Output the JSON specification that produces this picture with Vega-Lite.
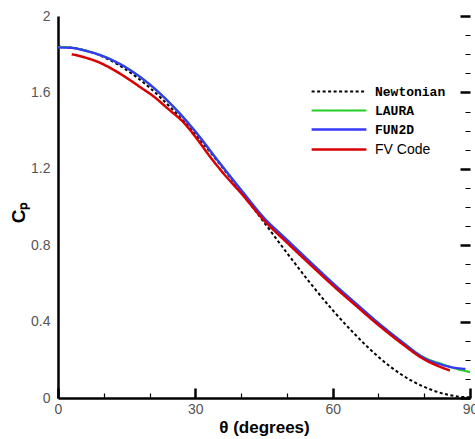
{
  "$schema": "https://vega.github.io/schema/vega-lite/v6.json",
  "width": 412,
  "height": 382,
  "autosize": "none",
  "padding": {"left": 58, "top": 16, "right": 5, "bottom": 41},
  "config": {"view": {"stroke": null}, "font": "Liberation Sans"},
  "data": {
    "values": [
      {"s": "Newtonian", "t": 0, "cp": 1.84},
      {"s": "Newtonian", "t": 5, "cp": 1.826},
      {"s": "Newtonian", "t": 10, "cp": 1.785},
      {"s": "Newtonian", "t": 15, "cp": 1.717},
      {"s": "Newtonian", "t": 20, "cp": 1.625},
      {"s": "Newtonian", "t": 25, "cp": 1.511},
      {"s": "Newtonian", "t": 30, "cp": 1.38},
      {"s": "Newtonian", "t": 35, "cp": 1.235},
      {"s": "Newtonian", "t": 40, "cp": 1.08},
      {"s": "Newtonian", "t": 45, "cp": 0.92},
      {"s": "Newtonian", "t": 50, "cp": 0.76},
      {"s": "Newtonian", "t": 55, "cp": 0.605},
      {"s": "Newtonian", "t": 60, "cp": 0.46},
      {"s": "Newtonian", "t": 65, "cp": 0.33},
      {"s": "Newtonian", "t": 70, "cp": 0.215},
      {"s": "Newtonian", "t": 75, "cp": 0.123},
      {"s": "Newtonian", "t": 80, "cp": 0.058},
      {"s": "Newtonian", "t": 85, "cp": 0.018},
      {"s": "Newtonian", "t": 88, "cp": 0.006},
      {"s": "Newtonian", "t": 90, "cp": 0.004},
      {"s": "LAURA", "t": 0, "cp": 1.838},
      {"s": "LAURA", "t": 3, "cp": 1.834},
      {"s": "LAURA", "t": 6, "cp": 1.819},
      {"s": "LAURA", "t": 10, "cp": 1.789},
      {"s": "LAURA", "t": 15, "cp": 1.729},
      {"s": "LAURA", "t": 20, "cp": 1.643},
      {"s": "LAURA", "t": 25, "cp": 1.531},
      {"s": "LAURA", "t": 30, "cp": 1.396},
      {"s": "LAURA", "t": 35, "cp": 1.241},
      {"s": "LAURA", "t": 40, "cp": 1.09},
      {"s": "LAURA", "t": 45, "cp": 0.944},
      {"s": "LAURA", "t": 50, "cp": 0.829},
      {"s": "LAURA", "t": 55, "cp": 0.715},
      {"s": "LAURA", "t": 60, "cp": 0.603},
      {"s": "LAURA", "t": 65, "cp": 0.497},
      {"s": "LAURA", "t": 70, "cp": 0.393},
      {"s": "LAURA", "t": 75, "cp": 0.298},
      {"s": "LAURA", "t": 80, "cp": 0.212},
      {"s": "LAURA", "t": 84, "cp": 0.177},
      {"s": "LAURA", "t": 87, "cp": 0.153},
      {"s": "LAURA", "t": 90, "cp": 0.136},
      {"s": "FUN2D", "t": 0, "cp": 1.835},
      {"s": "FUN2D", "t": 3, "cp": 1.833},
      {"s": "FUN2D", "t": 6, "cp": 1.818},
      {"s": "FUN2D", "t": 10, "cp": 1.788},
      {"s": "FUN2D", "t": 15, "cp": 1.728},
      {"s": "FUN2D", "t": 20, "cp": 1.642},
      {"s": "FUN2D", "t": 25, "cp": 1.53},
      {"s": "FUN2D", "t": 30, "cp": 1.395},
      {"s": "FUN2D", "t": 35, "cp": 1.24},
      {"s": "FUN2D", "t": 40, "cp": 1.089},
      {"s": "FUN2D", "t": 45, "cp": 0.943},
      {"s": "FUN2D", "t": 50, "cp": 0.828},
      {"s": "FUN2D", "t": 55, "cp": 0.714},
      {"s": "FUN2D", "t": 60, "cp": 0.602},
      {"s": "FUN2D", "t": 65, "cp": 0.496},
      {"s": "FUN2D", "t": 70, "cp": 0.392},
      {"s": "FUN2D", "t": 75, "cp": 0.296},
      {"s": "FUN2D", "t": 80, "cp": 0.209},
      {"s": "FUN2D", "t": 84, "cp": 0.173},
      {"s": "FUN2D", "t": 86.5, "cp": 0.159},
      {"s": "FUN2D", "t": 89, "cp": 0.152},
      {"s": "FV Code", "t": 3, "cp": 1.8},
      {"s": "FV Code", "t": 6, "cp": 1.782},
      {"s": "FV Code", "t": 9, "cp": 1.757},
      {"s": "FV Code", "t": 12, "cp": 1.72},
      {"s": "FV Code", "t": 15, "cp": 1.676},
      {"s": "FV Code", "t": 18, "cp": 1.627},
      {"s": "FV Code", "t": 21, "cp": 1.577},
      {"s": "FV Code", "t": 24, "cp": 1.515},
      {"s": "FV Code", "t": 27.7, "cp": 1.436},
      {"s": "FV Code", "t": 30.6, "cp": 1.349},
      {"s": "FV Code", "t": 33, "cp": 1.27},
      {"s": "FV Code", "t": 36, "cp": 1.18},
      {"s": "FV Code", "t": 40, "cp": 1.072},
      {"s": "FV Code", "t": 45, "cp": 0.93},
      {"s": "FV Code", "t": 50, "cp": 0.814},
      {"s": "FV Code", "t": 55, "cp": 0.701},
      {"s": "FV Code", "t": 60, "cp": 0.59},
      {"s": "FV Code", "t": 65, "cp": 0.485},
      {"s": "FV Code", "t": 70, "cp": 0.382},
      {"s": "FV Code", "t": 75, "cp": 0.287},
      {"s": "FV Code", "t": 80, "cp": 0.202},
      {"s": "FV Code", "t": 83, "cp": 0.168},
      {"s": "FV Code", "t": 85.6, "cp": 0.144}
    ]
  },
  "encoding": {
    "x": {
      "field": "t",
      "type": "quantitative",
      "scale": {"domain": [0, 90], "nice": false},
      "axis": {
        "values": [0, 10, 20, 30, 40, 50, 60, 70, 80, 90],
        "labelExpr": "datum.value % 30 == 0 ? format(datum.value, '~g') : ''",
        "ticks": false,
        "grid": true,
        "gridColor": "black",
        "gridOpacity": 1,
        "gridDash": {"condition": {"test": "datum.value % 30 == 0", "value": [0, 372, 10, 1000]}, "value": [0, 377, 5, 1000]},
        "gridWidth": {"condition": {"test": "datum.value % 30 == 0", "value": 2.5}, "value": 1.2},
        "domainColor": "black",
        "domainWidth": 2.5,
        "labelColor": "#555555",
        "labelFontSize": 14,
        "labelPadding": 4,
        "labelFlush": false,
        "labelOverlap": false,
        "title": "θ (degrees)",
        "titleFontSize": 17,
        "titleFontWeight": "bold",
        "titleColor": "black",
        "titleY": 21
      }
    },
    "y": {
      "field": "cp",
      "type": "quantitative",
      "scale": {"domain": [0, 2], "nice": false},
      "axis": {
        "values": [0, 0.1, 0.2, 0.3, 0.4, 0.5, 0.6, 0.7, 0.8, 0.9, 1.0, 1.1, 1.2, 1.3, 1.4, 1.5, 1.6, 1.7, 1.8, 1.9, 2.0],
        "labelExpr": "round(datum.value * 10) % 4 == 0 ? format(datum.value, '~g') : ''",
        "ticks": false,
        "grid": true,
        "gridColor": "black",
        "gridOpacity": 1,
        "gridDash": {"condition": {"test": "round(datum.value * 10) % 4 == 0", "value": [0, 402, 10, 1000]}, "value": [0, 407, 5, 1000]},
        "gridWidth": {"condition": {"test": "round(datum.value * 10) % 4 == 0", "value": 2.5}, "value": 1.2},
        "domainColor": "black",
        "domainWidth": 2.5,
        "labelColor": "#555555",
        "labelFontSize": 14,
        "labelPadding": 8,
        "labelOverlap": false,
        "title": "Cₚ",
        "titleFontSize": 19,
        "titleFontWeight": "bold",
        "titleColor": "black",
        "titleX": -40,
        "titleY": 196,
        "titleAngle": -90,
        "titleAlign": "center",
        "titleBaseline": "middle"
      }
    },
    "color": {
      "field": "s",
      "type": "nominal",
      "scale": {"domain": ["Newtonian", "LAURA", "FUN2D", "FV Code"], "range": ["#000000", "#22cc22", "#3838f8", "#d80000"]},
      "legend": {
        "title": null,
        "orient": "none",
        "legendX": 252,
        "legendY": 69,
        "symbolType": "stroke",
        "symbolSize": 3000,
        "symbolStrokeWidth": 3,
        "clipHeight": 13,
        "labelFontSize": 13,
        "labelColor": "black",
        "rowPadding": 5,
        "labelOffset": 7,
        "encode": {
          "labels": {
            "update": {
              "font": {"signal": "datum.label == 'FV Code' ? 'Liberation Sans' : 'Liberation Mono'"},
              "fontWeight": {"signal": "datum.label == 'FV Code' ? 'normal' : 'bold'"},
              "fontSize": {"signal": "datum.label == 'FV Code' ? 14 : 13"}
            }
          }
        }
      }
    },
    "strokeDash": {
      "field": "s",
      "type": "nominal",
      "scale": {"domain": ["Newtonian", "LAURA", "FUN2D", "FV Code"], "range": [[3, 2.5], [1, 0], [1, 0], [1, 0]]},
      "legend": {
        "title": null,
        "orient": "none",
        "legendX": 252,
        "legendY": 69,
        "symbolType": "stroke",
        "symbolSize": 3000,
        "symbolStrokeWidth": 3,
        "clipHeight": 13,
        "labelFontSize": 13,
        "labelColor": "black",
        "rowPadding": 5,
        "labelOffset": 7,
        "encode": {
          "labels": {
            "update": {
              "font": {"signal": "datum.label == 'FV Code' ? 'Liberation Sans' : 'Liberation Mono'"},
              "fontWeight": {"signal": "datum.label == 'FV Code' ? 'normal' : 'bold'"},
              "fontSize": {"signal": "datum.label == 'FV Code' ? 14 : 13"}
            }
          }
        }
      }
    },
    "strokeWidth": {
      "field": "s",
      "type": "nominal",
      "scale": {"domain": ["Newtonian", "LAURA", "FUN2D", "FV Code"], "range": [2, 2.5, 3, 3]},
      "legend": null
    }
  },
  "layer": [
    {"transform": [{"filter": "datum.s == 'Newtonian'"}], "mark": {"type": "line", "interpolate": "monotone"}},
    {"transform": [{"filter": "datum.s == 'LAURA'"}], "mark": {"type": "line", "interpolate": "monotone"}},
    {"transform": [{"filter": "datum.s == 'FUN2D'"}], "mark": {"type": "line", "interpolate": "monotone"}},
    {"transform": [{"filter": "datum.s == 'FV Code'"}], "mark": {"type": "line", "interpolate": "monotone"}}
  ]
}
